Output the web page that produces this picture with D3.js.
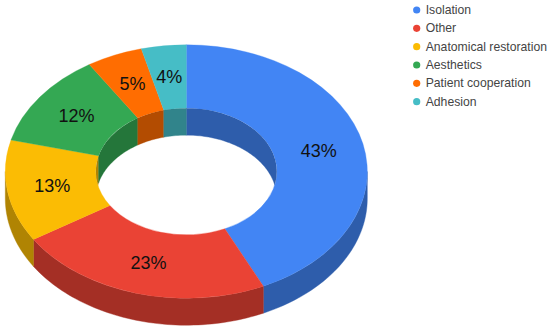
<!DOCTYPE html>
<html>
<head>
<meta charset="utf-8">
<script src="https://cdn.jsdelivr.net/npm/d3@7"></script>
<style>
  html, body { margin: 0; padding: 0; background: #fff; }
  text { font-family: "Liberation Sans", Arial, sans-serif; }
</style>
</head>
<body>
<script>
var categories = ["Isolation", "Other", "Anatomical restoration", "Aesthetics", "Patient cooperation", "Adhesion"];
var shares = [43, 23, 13, 12, 5, 4];
var colors = ["#4285f4", "#ea4335", "#fbbc04", "#34a853", "#ff6d01", "#46bdc6"];

var WIDTH = 550;
var HEIGHT = 330;
var CX = 186.3;
var CY = 171.5;
var R_OUTER = 181;
var R_INNER = 90.5;
var TILT = 0.7;
var DEPTH = 27;

var colorScale = d3.scaleOrdinal().domain(categories).range(colors);

// same 0.7 shade the 3d sides have in the original
function shade(c) {
  let rgb = d3.rgb(c);
  return d3.rgb(rgb.r * 0.7, rgb.g * 0.7, rgb.b * 0.7).formatHex();
}

var svg = d3.select("body")
  .append("svg")
  .attr("width", WIDTH)
  .attr("height", HEIGHT)
  .style("display", "block");

var slices = d3.pie()
  .sort(null)
  .value(function (d) { return d.value; })(categories.map(function (c, i) {
    return { name: c, value: shares[i] };
  }));

var arc = d3.arc().innerRadius(R_INNER).outerRadius(R_OUTER);

var lineGen = d3.line();

// angle is clockwise from 12 o'clock, like d3.arc
function ringPoint(r, a, dy) {
  return [CX + r * Math.sin(a), CY - r * TILT * Math.cos(a) + dy];
}

function wallPath(r, a0, a1) {
  let n = Math.max(2, Math.ceil((a1 - a0) * 40));
  let angles = d3.range(n + 1).map(function (i) { return a0 + (a1 - a0) * i / n; });
  let top = angles.map(function (a) { return ringPoint(r, a, 0); });
  let bottom = angles.slice().reverse().map(function (a) { return ringPoint(r, a, DEPTH); });
  return lineGen(top.concat(bottom)) + "Z";
}

function overlap(d, lo, hi) {
  let a0 = Math.max(d.startAngle, lo);
  let a1 = Math.min(d.endAngle, hi);
  return a1 > a0 ? [a0, a1] : null;
}

// outer wall, only the near half shows
var outerWalls = svg.append("g");
slices.forEach(function (d) {
  let part = overlap(d, Math.PI / 2, Math.PI * 1.5);
  if (!part) return;
  let c = shade(colorScale(d.data.name));
  outerWalls.append("path")
    .attr("d", wallPath(R_OUTER, part[0], part[1]))
    .attr("fill", c)
    .attr("stroke", c)
    .attr("stroke-width", 0.4);
});

// top face
svg.append("g")
  .attr("transform", "translate(" + CX + "," + CY + ") scale(1," + TILT + ")")
  .selectAll("path")
  .data(slices)
  .enter()
  .append("path")
  .attr("d", arc)
  .attr("fill", function (d) { return colorScale(d.data.name); })
  .attr("stroke", function (d) { return colorScale(d.data.name); })
  .attr("stroke-width", 0.4);

// inner wall, far half only and cut by the hole
svg.append("clipPath")
  .attr("id", "hole")
  .append("ellipse")
  .attr("cx", CX)
  .attr("cy", CY)
  .attr("rx", R_INNER)
  .attr("ry", R_INNER * TILT);

var innerWalls = svg.append("g").attr("clip-path", "url(#hole)");
slices.forEach(function (d) {
  [[0, Math.PI / 2], [Math.PI * 1.5, Math.PI * 2]].forEach(function (range) {
    let part = overlap(d, range[0], range[1]);
    if (!part) return;
    let c = shade(colorScale(d.data.name));
    innerWalls.append("path")
      .attr("d", wallPath(R_INNER, part[0], part[1]))
      .attr("fill", c)
      .attr("stroke", c)
      .attr("stroke-width", 0.4);
  });
});

// percent labels
svg.append("g")
  .selectAll("text")
  .data(slices)
  .enter()
  .append("text")
  .attr("x", function (d) { return CX + arc.centroid(d)[0]; })
  .attr("y", function (d) { return CY + arc.centroid(d)[1] * TILT; })
  .attr("text-anchor", "middle")
  .attr("dominant-baseline", "central")
  .attr("font-size", 18)
  .attr("fill", "#111")
  .text(function (d) { return d.data.value + "%"; });

// legend
var legendY = d3.scalePoint().domain(categories).range([10, 101.7]);

var legend = svg.append("g")
  .selectAll("g")
  .data(categories)
  .enter()
  .append("g")
  .attr("transform", function (d) { return "translate(416.7," + legendY(d) + ")"; });

legend.append("circle")
  .attr("r", 3.6)
  .attr("fill", function (d) { return colorScale(d); });

legend.append("text")
  .attr("x", 9)
  .attr("dominant-baseline", "central")
  .attr("font-size", 12.2)
  .attr("fill", "#444")
  .text(function (d) { return d; });
</script>
</body>
</html>
